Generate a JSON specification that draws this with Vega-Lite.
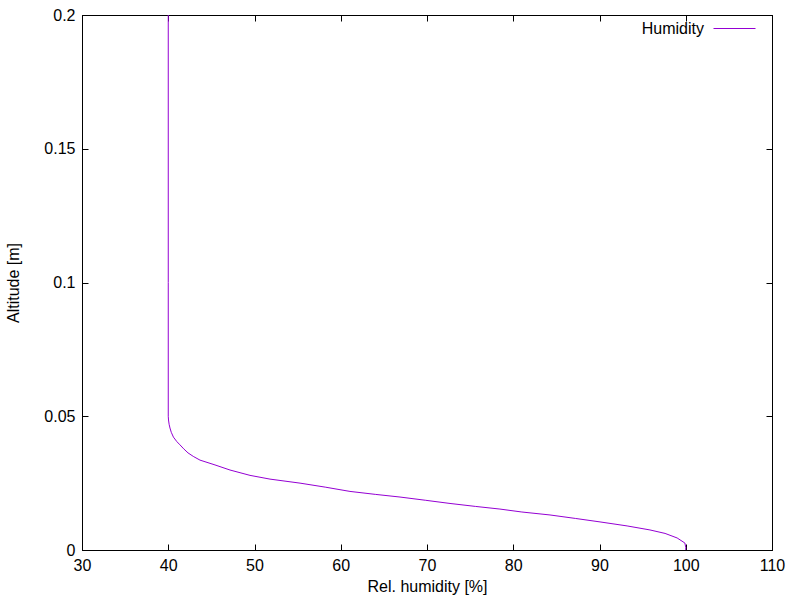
{
  "$schema": "https://vega.github.io/schema/vega-lite/v6.json",
  "width": 690,
  "height": 535,
  "autosize": {"type": "none"},
  "padding": {"left": 82, "top": 15, "right": 28, "bottom": 50},
  "background": "white",
  "config": {
    "view": {"stroke": "black", "strokeWidth": 1},
    "font": "Liberation Sans",
    "axis": {
      "grid": false,
      "domainColor": "black",
      "tickColor": "black",
      "labelColor": "black",
      "titleColor": "black",
      "labelFont": "Liberation Sans",
      "titleFont": "Liberation Sans",
      "labelFontSize": 16,
      "titleFontSize": 16,
      "titleFontWeight": "normal",
      "tickSize": -6,
      "labelPadding": 13
    },
    "legend": {"labelFont": "Liberation Sans"}
  },
  "data": {
    "values": [
      {"alt": 0.2, "rh": 40.0},
      {"alt": 0.1, "rh": 40.0},
      {"alt": 0.05, "rh": 40.0},
      {"alt": 0.0486, "rh": 40.03},
      {"alt": 0.047, "rh": 40.1},
      {"alt": 0.0456, "rh": 40.2},
      {"alt": 0.044, "rh": 40.35},
      {"alt": 0.0422, "rh": 40.6},
      {"alt": 0.0405, "rh": 41.0},
      {"alt": 0.0393, "rh": 41.36},
      {"alt": 0.0378, "rh": 41.8},
      {"alt": 0.0363, "rh": 42.29},
      {"alt": 0.035, "rh": 42.9},
      {"alt": 0.0336, "rh": 43.68},
      {"alt": 0.0318, "rh": 45.42},
      {"alt": 0.0299, "rh": 47.16},
      {"alt": 0.0279, "rh": 49.48},
      {"alt": 0.0265, "rh": 51.8},
      {"alt": 0.025, "rh": 55.28},
      {"alt": 0.0235, "rh": 58.2},
      {"alt": 0.0219, "rh": 61.07},
      {"alt": 0.0208, "rh": 64.0},
      {"alt": 0.0198, "rh": 66.87},
      {"alt": 0.0186, "rh": 69.8},
      {"alt": 0.0174, "rh": 72.67},
      {"alt": 0.0163, "rh": 75.6},
      {"alt": 0.0153, "rh": 78.46},
      {"alt": 0.0142, "rh": 81.0},
      {"alt": 0.0131, "rh": 84.26},
      {"alt": 0.0118, "rh": 87.2},
      {"alt": 0.0105, "rh": 90.06},
      {"alt": 0.009, "rh": 93.2},
      {"alt": 0.0075, "rh": 95.85},
      {"alt": 0.0062, "rh": 97.6},
      {"alt": 0.0045, "rh": 99.0},
      {"alt": 0.0026, "rh": 99.9},
      {"alt": 0.001, "rh": 100.0},
      {"alt": 0.0, "rh": 100.0}
    ]
  },
  "layer": [
    {
      "mark": {"type": "line", "strokeWidth": 1, "clip": true},
      "encoding": {
        "x": {
          "field": "rh", "type": "quantitative",
          "scale": {"domain": [30, 110], "nice": false, "zero": false},
          "axis": {"orient": "bottom", "values": [30, 40, 50, 60, 70, 80, 90, 100, 110], "title": "Rel. humidity [%]", "titlePadding": 5, "labelFlush": false}
        },
        "y": {
          "field": "alt", "type": "quantitative",
          "scale": {"domain": [0, 0.2], "nice": false, "zero": false},
          "axis": {"orient": "left", "values": [0, 0.05, 0.1, 0.15, 0.2], "format": "~g", "title": "Altitude [m]", "titlePadding": 22, "labelFlush": false}
        },
        "order": {"field": "alt", "type": "quantitative"},
        "color": {
          "datum": "Humidity",
          "type": "nominal",
          "scale": {"range": ["#9400d3"]},
          "legend": {
            "orient": "none",
            "legendX": 631,
            "legendY": -8,
            "title": null,
            "symbolType": "stroke",
            "symbolSize": 1764,
            "symbolStrokeWidth": 1,
            "labelAlign": "right",
            "labelOffset": -52,
            "labelFontSize": 16,
            "labelColor": "black"
          }
        }
      }
    },
    {
      "mark": {"type": "line", "strokeOpacity": 0},
      "encoding": {
        "x": {
          "field": "rh", "type": "quantitative",
          "axis": {"orient": "top", "values": [30, 40, 50, 60, 70, 80, 90, 100, 110], "labels": false, "title": null}
        },
        "y": {
          "field": "alt", "type": "quantitative",
          "axis": {"orient": "right", "values": [0, 0.05, 0.1, 0.15, 0.2], "labels": false, "title": null}
        }
      }
    }
  ],
  "resolve": {"axis": {"x": "independent", "y": "independent"}}
}
